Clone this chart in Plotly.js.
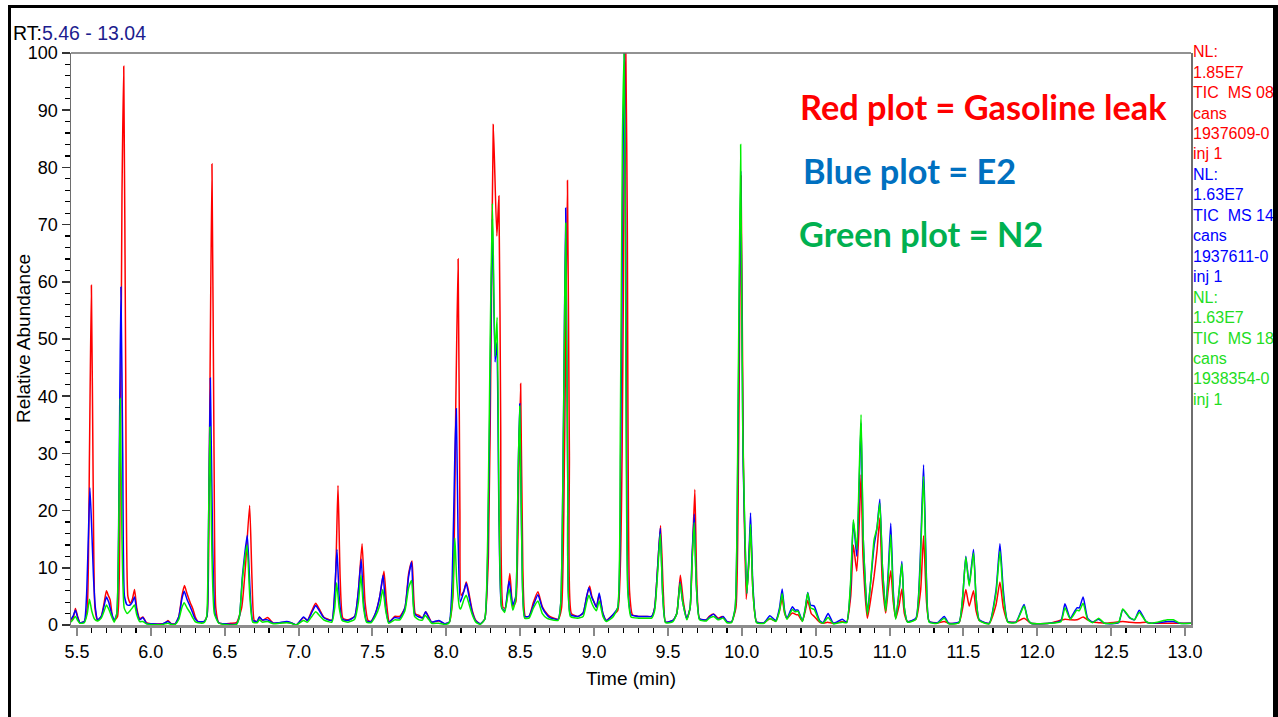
<!DOCTYPE html>
<html>
<head>
<meta charset="utf-8">
<script src="https://cdn.plot.ly/plotly-3.0.1.min.js"></script>
<style>
  html, body { margin:0; padding:0; background:#fff; overflow:hidden; }
  #chart { width:1278px; height:717px; position:absolute; left:0; top:0; }
  .bar { position:absolute; background:#000; }
</style>
</head>
<body>
<div id="chart"></div>
<div class="bar" style="left:8px; top:5px; width:1268px; height:3px;"></div>
<div class="bar" style="left:8px; top:5px; width:3px; height:712px;"></div>
<div class="bar" style="left:1273px; top:5px; width:5px; height:712px;"></div>
<script>
// Retention time (min) / relative abundance (%) pairs
const gasolineLeak = [
[5.46,0.8],[5.475,1.2],[5.49,2.9],[5.505,1.5],[5.52,0.4],[5.55,0.6],[5.57,3],[5.585,30],[5.598,59.4],[5.61,25],[5.622,3],[5.64,0.8],
[5.665,1.5],[5.685,4],[5.70,6.0],[5.712,5.2],[5.725,4.4],[5.74,1.5],[5.752,0.8],[5.775,1.5],[5.79,15],[5.805,75],[5.817,97.7],[5.83,45],
[5.845,5],[5.86,3.8],[5.875,4.5],[5.89,6.2],[5.905,3],[5.925,1.1],[5.947,1.4],[5.97,0.4],[6.0,0.2],[6.08,0.2],[6.10,0.4],[6.116,0.8],
[6.14,0.2],[6.165,0.2],[6.19,1.5],[6.21,5],[6.228,6.9],[6.245,5.5],[6.267,3.9],[6.285,2.8],[6.30,1.5],[6.32,0.6],[6.36,0.6],[6.38,1.5],
[6.395,25],[6.414,80.6],[6.428,30],[6.44,3],[6.46,0.4],[6.5,0.2],[6.54,0.3],[6.58,0.4],[6.615,3],[6.64,10],[6.669,20.9],[6.685,8],
[6.70,0.8],[6.72,0.6],[6.735,1.4],[6.755,0.8],[6.79,1.3],[6.83,0.3],[6.87,0.4],[6.92,0.5],[6.95,0.4],[6.985,0.0],[7.034,1.3],[7.06,0.8],
[7.09,2.5],[7.116,3.8],[7.14,2.8],[7.17,1.4],[7.2,1.0],[7.226,0.8],[7.25,8],[7.267,24.4],[7.282,8],[7.30,1.2],[7.335,0.9],[7.38,1.5],
[7.405,6],[7.43,14.2],[7.45,4],[7.47,0.8],[7.49,0.6],[7.52,2],[7.55,5],[7.578,9.4],[7.595,4],[7.615,0.5],[7.65,1.5],[7.685,1.5],
[7.72,3],[7.745,9],[7.768,11.2],[7.79,2],[7.815,1.7],[7.84,1.2],[7.86,2.3],[7.88,1.5],[7.9,0.5],[7.95,0.7],[7.99,0.2],[8.02,0.5],
[8.045,5],[8.065,40],[8.08,64.0],[8.092,20],[8.10,5.2],[8.12,6],[8.135,7.5],[8.15,6],[8.176,2.5],[8.2,0.8],[8.23,0.2],[8.26,1],
[8.285,12],[8.305,55],[8.318,87.5],[8.342,68],[8.356,75],[8.368,35],[8.385,3],[8.4,3],[8.43,9.0],[8.45,3.2],[8.47,4],[8.49,25],
[8.503,42.2],[8.518,10],[8.535,1.5],[8.56,1.5],[8.59,4],[8.62,5.8],[8.65,3.2],[8.68,2],[8.70,1.5],[8.757,1.0],[8.78,3],[8.80,30],
[8.82,77.7],[8.833,30],[8.847,2],[8.89,1.5],[8.926,2.1],[8.95,5],[8.97,6.8],[8.985,5],[9.0,4],[9.016,3.1],[9.035,5.3],[9.06,2],
[9.083,0.8],[9.128,1.8],[9.16,2.5],[9.19,30],[9.205,85],[9.215,100],[9.225,70],[9.24,6],[9.26,1.8],[9.3,1.5],[9.35,1.5],[9.39,1.5],
[9.41,3],[9.43,10],[9.45,17.4],[9.47,5],[9.484,0.5],[9.534,0.8],[9.56,2],[9.584,8.7],[9.605,4],[9.628,1.1],[9.65,3],[9.665,12],
[9.682,23.7],[9.695,8],[9.714,1.1],[9.76,0.9],[9.78,1.5],[9.81,1.9],[9.84,1.2],[9.867,1.5],[9.9,0.6],[9.93,0.5],[9.96,3],[9.978,30],
[9.995,78.5],[10.01,30],[10.03,4.5],[10.045,10],[10.059,17.2],[10.075,6],[10.1,0.5],[10.15,0.4],[10.19,1.1],[10.23,0.7],[10.255,2.5],
[10.273,4.6],[10.29,2],[10.306,1.2],[10.342,2.1],[10.37,1.8],[10.38,1.8],[10.41,0.7],[10.43,2.5],[10.446,4.3],[10.47,2],[10.49,1.5],
[10.526,0.5],[10.55,0.3],[10.58,0.5],[10.62,0.3],[10.68,0.6],[10.71,0.5],[10.737,5],[10.755,14.0],[10.778,9.4],[10.795,18],[10.807,26.3],
[10.82,12],[10.85,1.2],[10.875,5],[10.895,8.5],[10.915,13],[10.934,18.7],[10.95,8],[10.974,2.1],[10.99,6],[11.008,9.5],[11.025,4],
[11.042,1.2],[11.065,3.5],[11.083,6.3],[11.1,2],[11.121,0.6],[11.178,1.0],[11.21,6],[11.23,15.6],[11.25,4],[11.268,0.6],[11.324,0.4],
[11.37,0.6],[11.40,0.3],[11.47,0.4],[11.495,3],[11.516,6.2],[11.539,3.3],[11.568,6.0],[11.585,2.5],[11.607,0.8],[11.674,0.3],[11.72,3.5],
[11.747,7.5],[11.77,3],[11.8,0.6],[11.855,0.5],[11.91,1.2],[11.957,0.3],[12.08,0.3],[12.187,1.0],[12.223,0.9],[12.268,0.9],[12.31,1.4],
[12.34,0.9],[12.374,0.5],[12.415,0.4],[12.454,0.3],[12.578,0.6],[12.623,0.5],[12.69,0.4],[12.736,0.5],[12.77,0.3],[12.88,0.3],[13.04,0.3]
];

const sampleE2 = [
[5.46,1.0],[5.475,1.6],[5.49,2.6],[5.505,1.3],[5.52,0.4],[5.55,0.6],[5.565,5],[5.577,15],[5.588,24.0],[5.6,17],[5.612,8.5],[5.625,3],
[5.64,0.9],[5.665,1.5],[5.685,3.5],[5.70,4.9],[5.715,4.0],[5.73,2.5],[5.752,0.8],[5.77,2],[5.785,25],[5.798,59.1],[5.81,30],[5.822,5],
[5.84,3.5],[5.86,3.5],[5.875,4.0],[5.89,4.9],[5.905,2.5],[5.925,0.9],[5.947,1.3],[5.97,0.3],[6.0,0.2],[6.08,0.2],[6.116,0.6],[6.14,0.2],
[6.165,0.2],[6.19,1.5],[6.21,4.5],[6.226,5.9],[6.245,4.5],[6.267,3.2],[6.285,2.0],[6.30,1.1],[6.32,0.6],[6.36,0.6],[6.38,1.5],[6.39,15],
[6.403,43.2],[6.418,15],[6.435,2],[6.46,0.4],[6.5,0.2],[6.58,0.2],[6.6,1.5],[6.62,8.5],[6.653,15.7],[6.672,6],[6.69,0.8],[6.72,0.6],
[6.735,1.4],[6.755,0.9],[6.79,0.9],[6.83,0.3],[6.87,0.4],[6.92,0.6],[6.95,0.4],[6.985,0.0],[7.034,1.4],[7.06,0.8],[7.09,2.2],[7.116,3.4],
[7.14,2.5],[7.17,1.3],[7.2,0.9],[7.226,0.8],[7.245,6],[7.26,13.2],[7.275,5],[7.295,1.0],[7.335,0.8],[7.38,1.5],[7.405,6],[7.424,11.5],
[7.44,4],[7.46,0.7],[7.49,0.6],[7.52,2],[7.55,5],[7.572,8.7],[7.59,3],[7.61,0.5],[7.65,1.3],[7.685,1.2],[7.72,3],[7.745,8.5],
[7.765,11.0],[7.785,2],[7.815,1.4],[7.84,1.3],[7.86,2.3],[7.88,1.3],[7.9,0.5],[7.95,0.8],[7.99,0.2],[8.02,0.5],[8.04,8],[8.058,30],
[8.068,37.8],[8.08,15],[8.095,4],[8.12,6],[8.135,7.3],[8.15,5.5],[8.176,2.2],[8.2,0.7],[8.23,0.2],[8.26,1],[8.28,12],[8.298,45],
[8.312,71],[8.33,46],[8.342,49.4],[8.357,18],[8.375,3],[8.395,2.5],[8.425,7.7],[8.45,3.5],[8.47,5],[8.485,25],[8.497,38.7],[8.512,12],
[8.53,1.5],[8.56,1.5],[8.59,3.5],[8.62,5.3],[8.65,3.0],[8.68,1.8],[8.70,1.3],[8.757,1.0],[8.775,4],[8.793,35],[8.808,72.9],[8.822,25],
[8.84,1.8],[8.89,1.5],[8.926,2.1],[8.95,5],[8.965,6.5],[8.985,4.8],[9.0,4],[9.016,3.1],[9.035,5.6],[9.06,2],[9.083,0.8],[9.128,1.8],
[9.16,3],[9.18,30],[9.195,80],[9.205,100],[9.215,65],[9.23,6],[9.25,1.8],[9.3,1.5],[9.35,1.5],[9.39,1.5],[9.41,3],[9.43,10],
[9.448,16.9],[9.465,5],[9.484,0.5],[9.534,0.8],[9.56,2],[9.582,7.5],[9.6,4],[9.628,1.1],[9.65,3],[9.663,12],[9.678,19.4],[9.692,7],
[9.714,1.1],[9.76,0.9],[9.785,1.5],[9.81,1.9],[9.84,1.0],[9.873,1.5],[9.9,0.6],[9.93,0.5],[9.955,3],[9.975,35],[9.993,79.2],[10.008,30],
[10.034,5.5],[10.048,12],[10.059,19.6],[10.075,7],[10.1,0.5],[10.15,0.4],[10.19,1.6],[10.23,0.8],[10.255,3],[10.273,6.3],[10.29,2.5],
[10.306,1.2],[10.342,3.2],[10.36,2.6],[10.38,2.6],[10.41,0.7],[10.43,3],[10.446,5.7],[10.465,3.5],[10.49,3.3],[10.526,0.8],[10.55,0.4],
[10.584,2.0],[10.62,0.3],[10.68,1.0],[10.71,0.5],[10.737,7],[10.755,18.1],[10.778,12.0],[10.795,25],[10.807,35.3],[10.822,15],[10.85,2.1],
[10.87,7],[10.895,13.8],[10.915,17],[10.934,22.0],[10.952,10],[10.974,2.7],[10.99,9],[11.008,17.8],[11.025,6],[11.042,1.2],[11.065,6],
[11.083,11.1],[11.1,3],[11.121,0.6],[11.178,1.2],[11.205,10],[11.23,28.0],[11.25,8],[11.268,0.6],[11.324,0.4],[11.37,1.5],[11.40,0.3],
[11.47,0.5],[11.495,5],[11.516,12.0],[11.539,7.1],[11.568,13.2],[11.585,5],[11.607,0.9],[11.674,0.3],[11.72,6],[11.747,14.2],[11.77,6],
[11.8,0.6],[11.855,0.5],[11.91,3.6],[11.935,1],[11.957,0.3],[12.08,0.3],[12.16,0.8],[12.187,3.7],[12.223,1.2],[12.268,3.0],[12.284,3.0],
[12.31,4.9],[12.34,1.2],[12.374,0.5],[12.415,1.0],[12.454,0.3],[12.55,0.4],[12.578,2.7],[12.623,1.3],[12.657,0.9],[12.69,2.6],[12.736,0.6],
[12.77,0.3],[12.88,0.6],[12.92,0.6],[12.965,0.3],[13.04,0.3]
];

const sampleN2 = [
[5.46,0.5],[5.475,1.0],[5.49,1.5],[5.505,0.8],[5.52,0.3],[5.55,0.4],[5.57,2],[5.585,4.5],[5.6,2.5],[5.62,1],[5.64,0.7],[5.665,1.2],
[5.685,2.5],[5.70,3.5],[5.715,2.8],[5.73,1.8],[5.752,0.5],[5.77,2],[5.782,15],[5.793,39.6],[5.805,15],[5.82,3],[5.84,2.0],[5.86,2.5],
[5.875,3],[5.89,3.5],[5.905,1.8],[5.925,0.6],[5.947,0.6],[5.97,0.2],[6.0,0.1],[6.08,0.1],[6.116,0.3],[6.14,0.1],[6.165,0.1],[6.19,1.0],
[6.21,3],[6.226,3.9],[6.245,3],[6.267,2.1],[6.285,1.2],[6.30,0.6],[6.32,0.4],[6.36,0.4],[6.378,1.5],[6.388,12],[6.40,34.6],[6.414,12],
[6.43,2],[6.46,0.3],[6.5,0.1],[6.58,0.1],[6.6,1.5],[6.62,8],[6.651,14.0],[6.67,5],[6.69,0.5],[6.72,0.4],[6.735,0.9],[6.755,0.5],
[6.79,0.6],[6.83,0.2],[6.87,0.3],[6.92,0.4],[6.95,0.3],[6.985,0.0],[7.034,0.8],[7.06,0.5],[7.09,1.5],[7.116,2.3],[7.14,1.7],[7.17,0.9],
[7.2,0.6],[7.226,0.5],[7.245,3],[7.258,7.4],[7.275,3],[7.295,0.8],[7.335,0.5],[7.38,1],[7.405,4],[7.422,8.7],[7.44,3],[7.46,0.5],
[7.49,0.4],[7.52,1.5],[7.55,3.5],[7.57,6.2],[7.59,2.5],[7.61,0.3],[7.65,0.9],[7.685,0.9],[7.72,2.5],[7.745,6.5],[7.765,7.8],[7.785,1.5],
[7.815,0.9],[7.84,0.9],[7.856,1.7],[7.88,1.0],[7.9,0.3],[7.95,0.3],[7.99,0.1],[8.02,0.4],[8.04,4],[8.058,15.2],[8.07,8],[8.09,3],
[8.097,2.8],[8.12,4.5],[8.135,5.2],[8.15,4],[8.176,1.8],[8.2,0.5],[8.23,0.1],[8.26,1],[8.28,15],[8.297,50],[8.312,73.7],[8.33,47],
[8.344,53.8],[8.358,18],[8.375,3],[8.395,2.2],[8.425,6.3],[8.45,2.6],[8.47,4.5],[8.485,25],[8.497,38.3],[8.512,12],[8.53,1.2],[8.56,1.2],
[8.59,3],[8.62,4.2],[8.65,2.0],[8.68,1.2],[8.70,1.0],[8.757,0.8],[8.775,4],[8.793,35],[8.808,70.3],[8.822,25],[8.84,1.5],[8.89,1.2],
[8.926,1.5],[8.95,4],[8.965,5.2],[8.985,3.8],[9.0,3],[9.016,2.5],[9.035,4.2],[9.06,1.5],[9.083,0.6],[9.128,1.4],[9.16,3],[9.178,35],
[9.192,85],[9.203,100],[9.212,70],[9.228,6],[9.25,1.4],[9.3,1.2],[9.35,1.2],[9.39,1.2],[9.41,2.5],[9.43,9],[9.448,15.9],[9.465,5],
[9.484,0.4],[9.534,0.6],[9.56,2],[9.582,7.3],[9.6,4],[9.628,0.9],[9.65,3],[9.663,11],[9.678,17.9],[9.692,7],[9.714,0.9],[9.76,0.7],
[9.78,1.2],[9.81,1.5],[9.84,0.9],[9.873,1.2],[9.9,0.4],[9.93,0.4],[9.955,3],[9.975,40],[9.992,84.0],[10.006,35],[10.034,5.5],[10.048,11],
[10.059,17.6],[10.075,6],[10.1,0.4],[10.15,0.3],[10.19,1.2],[10.23,0.6],[10.255,2.5],[10.273,5.5],[10.29,2.2],[10.306,1.0],[10.342,2.7],
[10.36,2.3],[10.38,2.4],[10.41,0.6],[10.43,3],[10.446,5.6],[10.465,3],[10.49,2.7],[10.526,0.6],[10.55,0.3],[10.584,1.3],[10.62,0.2],
[10.68,0.5],[10.71,0.4],[10.737,8],[10.755,18.4],[10.778,13.2],[10.795,27],[10.807,36.8],[10.822,15],[10.85,1.8],[10.87,7],[10.895,14.9],
[10.915,17],[10.934,21.3],[10.952,10],[10.974,2.4],[10.99,8],[11.008,15.8],[11.025,5],[11.042,1.0],[11.065,6],[11.083,10.7],[11.1,3],
[11.121,0.5],[11.178,1.0],[11.205,9],[11.23,26.0],[11.25,7],[11.268,0.5],[11.324,0.3],[11.37,1.2],[11.40,0.2],[11.47,0.4],[11.495,5],
[11.516,11.9],[11.539,6.8],[11.568,12.6],[11.585,5],[11.607,0.8],[11.674,0.2],[11.72,5.5],[11.747,12.9],[11.77,5],[11.8,0.5],[11.855,0.4],
[11.91,3.3],[11.935,1],[11.957,0.3],[12.08,0.3],[12.16,0.6],[12.187,3.0],[12.223,1.0],[12.268,2.6],[12.284,2.5],[12.31,3.8],[12.34,1.0],
[12.374,0.4],[12.415,1.2],[12.454,0.3],[12.55,0.5],[12.578,2.8],[12.623,1.4],[12.657,0.9],[12.69,2.2],[12.736,0.6],[12.77,0.3],[12.88,0.9],
[12.92,0.9],[12.965,0.3],[13.04,0.3]
];

const rtLabel = 'RT:';
const rtRange = '5.46 - 13.04';
const yTitle = 'Relative Abundance';
const xTitle = 'Time (min)';
const legendLines = [
  {text:'Red plot = Gasoline leak', color:'#ff0000'},
  {text:'Blue plot = E2', color:'#0070c0'},
  {text:'Green plot = N2', color:'#00b050'}
];
const redInfo = ['NL:', '1.85E7', 'TIC\u00a0\u00a0MS 08', 'cans', '1937609-0', 'inj 1'];
const blueInfo = ['NL:', '1.63E7', 'TIC\u00a0\u00a0MS 14', 'cans', '1937611-0', 'inj 1'];
const greenInfo = ['NL:', '1.63E7', 'TIC\u00a0\u00a0MS 18', 'cans', '1938354-0', 'inj 1'];

function trace(pts, color) {
  return {
    x: pts.map(p => p[0]), y: pts.map(p => p[1]),
    type: 'scatter', mode: 'lines',
    line: {color: color, width: 1.5, shape: 'spline', smoothing: 0.5},
    hoverinfo: 'skip', showlegend: false
  };
}

const data = [
  trace(gasolineLeak, '#ff0000'),
  trace(sampleE2, '#0000ff'),
  trace(sampleN2, '#00ee00')
];

const L = 71, R = 1191, T = 53, B = 625, W = 1278, H = 717;
const px2x = px => (px - L) / (R - L);
const py2y = py => (B - py) / (B - T);
const FONT = 'Liberation Sans, Arial, sans-serif';

const annotations = [];
annotations.push({
  xref:'paper', yref:'paper', x: px2x(11), y: py2y(33), xanchor:'left', yanchor:'middle',
  text: rtLabel + '<span style="color:#1c1c8e">' + rtRange + '</span>',
  showarrow:false, font:{family:FONT, size:19.5, color:'#000'}
});
annotations.push({
  xref:'paper', yref:'paper', x: px2x(23), y: py2y(339), xanchor:'center', yanchor:'middle',
  text: yTitle, textangle:-90, showarrow:false, font:{family:FONT, size:19, color:'#000'}
});
const legendY = [107, 170, 233];
const legendX = [798, 801, 797];
legendLines.forEach((l, i) => {
  annotations.push({
    xref:'paper', yref:'paper', x: px2x(legendX[i]), y: py2y(legendY[i]), xanchor:'left', yanchor:'middle',
    text: '<b>' + l.text + '</b>', showarrow:false,
    font:{family:'Lato, Open Sans, sans-serif', size:34.3, color:l.color}
  });
});
const infoGroups = [[redInfo, '#ff0000'], [blueInfo, '#0000ff'], [greenInfo, '#22dd22']];
let line = 0;
infoGroups.forEach(g => {
  g[0].forEach(t => {
    annotations.push({
      xref:'paper', yref:'paper', x: px2x(1191), y: py2y(51.7 + line * 20.45), xanchor:'left', yanchor:'middle',
      text: t, showarrow:false,
      font:{family:FONT, size:16, color:g[1]}
    });
    line++;
  });
});

const layout = {
  width: W, height: H,
  margin: {l: L, r: W - R, t: T, b: H - B, pad: 0},
  paper_bgcolor:'#fff', plot_bgcolor:'#fff',
  font: {family:FONT, color:'#000'},
  xaxis: {
    range:[5.46, 13.04], autorange:false, fixedrange:true,
    tick0:5.5, dtick:0.5, tickformat:'.1f',
    ticks:'outside', ticklen:8, tickwidth:2, tickcolor:'#888',
    minor:{dtick:0.1, tick0:5.5, ticks:'outside', ticklen:5, tickwidth:1.2, tickcolor:'#000', showgrid:false},
    showgrid:false, zeroline:false,
    showline:true, linecolor:'#8c8c8c', linewidth:3, mirror:false,
    tickfont:{size:18, color:'#000'},
    title:{text:xTitle, font:{size:19, color:'#000'}, standoff:12},
    automargin:false
  },
  yaxis: {
    range:[0, 100], autorange:false, fixedrange:true,
    tick0:0, dtick:10,
    ticks:'outside', ticklen:8, tickwidth:1.5, tickcolor:'#333',
    minor:{dtick:2, ticks:'outside', ticklen:5, tickwidth:1.2, tickcolor:'#000', showgrid:false},
    showgrid:false, zeroline:false,
    showline:true, linecolor:'#6e6e6e', linewidth:1.5, mirror:true,
    tickfont:{size:18, color:'#000'},
    automargin:false
  },
  shapes: [
    {type:'line', xref:'paper', yref:'paper', x0:0, x1:1, y0:1, y1:1, line:{color:'#6e6e6e', width:1.5}}
  ],
  annotations: annotations,
  showlegend:false
};

Plotly.newPlot('chart', data, layout, {displayModeBar:false, staticPlot:true});
</script>
</body>
</html>
